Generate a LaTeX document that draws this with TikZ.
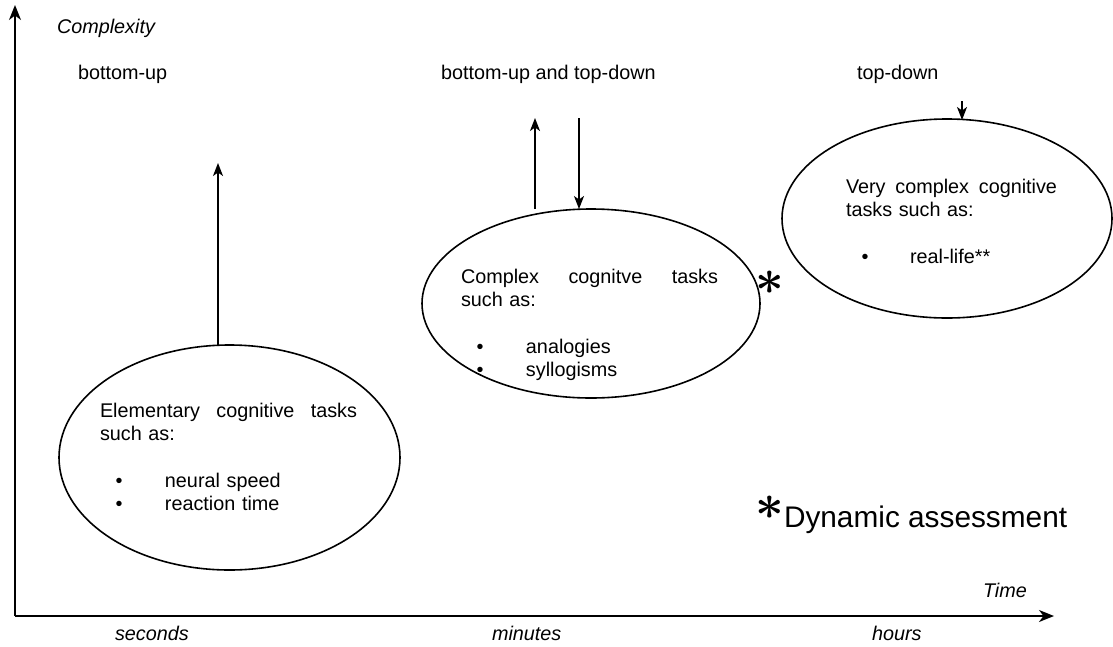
\documentclass[tikz,border=0pt]{standalone}
\usepackage{fontspec}
\usepackage{graphicx}
\setmainfont{Liberation Sans}
\usetikzlibrary{shapes.geometric,arrows.meta}

\begin{document}
\begin{tikzpicture}[x=1pt,y=-1pt,
  every node/.style={inner sep=0pt, outer sep=0pt},
  txt/.style={anchor=base west, font=\fontsize{19.8}{22}\selectfont},
  itl/.style={txt, font=\fontsize{19.8}{22}\selectfont\itshape},
  axis/.style={line width=1.6pt, -{Stealth[length=15pt,width=12pt,inset=4.5pt]}},
  link/.style={line width=1.5pt, -{Stealth[length=13pt,width=10pt,inset=3.5pt]}},
  task/.style={draw, ellipse, line width=1.6pt},
  body/.style={anchor=base west, align=left, font=\fontsize{19.8}{23}\selectfont},
  star/.style={font=\fontsize{20}{20}\selectfont\boldmath}
]
\useasboundingbox (0,0) rectangle (1113,646);

% axes
\coordinate (o) at (15,616);
\coordinate (ytip) at (15,5);
\coordinate (xtip) at (1054,616);
\draw[axis] (o) -- (ytip);
\draw[axis] (o) -- (xtip);

% axis labels
\node[itl] (cpx) at (57,33) {Complexity};
\node[itl] (tim) at (983,597) {Time};
\node[itl] (sec) at (115,640) {seconds};
\node[itl] (min) at (492,640) {minutes};
\node[itl] (hrs) at (872,640) {hours};

% processing directions
\node[txt] (bu) at (78,79) {bottom-up};
\node[txt] (butd) at (441,79) {bottom-up and top-down};
\node[txt] (td) at (857,79) {top-down};

% task ellipses
\node[task, minimum width=341pt, minimum height=225pt] (e1) at (229.5,457.5) {};
\node[task, minimum width=338pt, minimum height=189pt] (e2) at (591,303.5) {};
\node[task, minimum width=330pt, minimum height=199pt] (e3) at (947,218.5) {};

% arrows
\coordinate (a1s) at (218,346);
\coordinate (a1e) at (218,163);
\draw[link] (a1s) -- (a1e);
\coordinate (a2s) at (535,209);
\coordinate (a2e) at (535,118);
\draw[link] (a2s) -- (a2e);
\coordinate (a3s) at (579,118);
\draw[link] (a3s) -- (e2.north -| a3s);
\coordinate (a4s) at (962,101);
\coordinate (a4e) at (962,120);
\draw[link] (a4s) -- (a4e);

% ellipse contents
\node[body, text width=257pt] (t1) at (100,417) {%
  \hbox to 257pt{Elementary\hfill cognitive\hfill tasks}
  such as:\\[24pt]
  \hspace*{15.5pt}\makebox[49.5pt][l]{\textbullet}neural speed\\
  \hspace*{15.5pt}\makebox[49.5pt][l]{\textbullet}reaction time};
\node[body, text width=257pt] (t2) at (461,283) {%
  \hbox to 257pt{Complex\hfill cognitve\hfill tasks}
  such as:\\[24pt]
  \hspace*{15.5pt}\makebox[49.5pt][l]{\textbullet}analogies\\
  \hspace*{15.5pt}\makebox[49.5pt][l]{\textbullet}syllogisms};
\node[body, text width=211pt] (t3) at (846,193) {%
  \hbox to 211pt{Very\hfill complex\hfill cognitive}
  tasks such as:\\[24pt]
  \hspace*{15.5pt}\makebox[48.5pt][l]{\textbullet}real-life**};

% dynamic assessment marks
\node[star] (s1) at (770,283) {\scalebox{2.4}{$\ast$}};
\node[star] (s2) at (770,508) {\scalebox{2.4}{$\ast$}};
\node[anchor=base west, font=\fontsize{29.8}{33}\selectfont] (dyn) at (784,527) {Dynamic assessment};
\end{tikzpicture}
\end{document}
